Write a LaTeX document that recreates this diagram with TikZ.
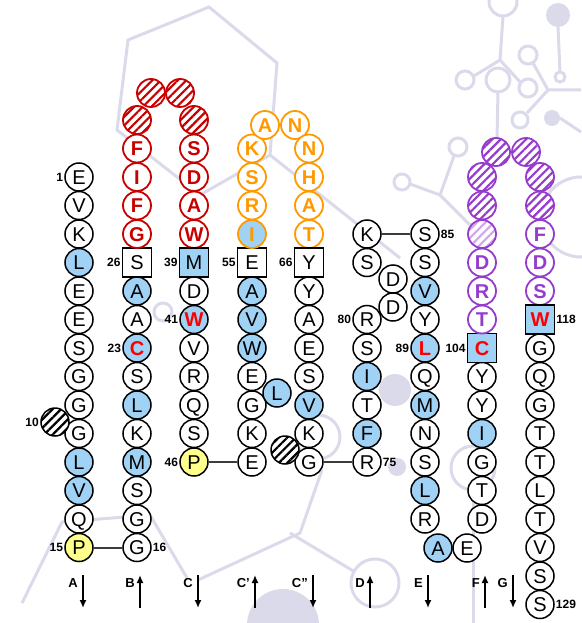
\documentclass[tikz,border=0pt]{standalone}
\usepackage{fontspec}
\setmainfont{Liberation Sans}
\usetikzlibrary{arrows.meta,patterns.meta}
\definecolor{hydBlue}{RGB}{160,210,246}
\definecolor{proYellow}{RGB}{255,255,140}
\definecolor{loopRed}{RGB}{200,0,0}
\definecolor{loopOrange}{RGB}{255,153,0}
\definecolor{loopPurple}{RGB}{150,60,205}
\definecolor{bgLav}{RGB}{218,218,235}
\definecolor{linkGray}{RGB}{60,60,60}
\newcommand{\resfont}{\fontsize{20}{20}\selectfont}
\newcommand{\resbold}{\fontsize{20}{20}\selectfont\bfseries}
\tikzset{
  res/.style={circle, draw, line width=1.5pt, fill=white, minimum size=28pt,
    inner sep=0pt, text height=14.3pt, text depth=0pt, font=\resfont},
  hyd/.style={res, fill=hydBlue},
  pro/.style={res, fill=proYellow},
  hydred/.style={hyd, text=red, font=\resbold},
  sq/.style={res, rectangle, minimum size=29pt},
  sqhyd/.style={sq, fill=hydBlue},
  sqred/.style={sqhyd, text=red, font=\resbold},
  redloop/.style={res, draw=loopRed, text=loopRed, line width=1.8pt, font=\resbold},
  orgloop/.style={res, draw=loopOrange, text=loopOrange, line width=1.8pt, font=\resbold},
  orghyd/.style={orgloop, fill=hydBlue},
  purloop/.style={res, draw=loopPurple, text=loopPurple, line width=1.8pt, font=\resbold},
  hatch/.style={res, preaction={fill=white},
    pattern={Lines[angle=45,distance=6pt,line width=2.2pt]}},
  blkhatch/.style={hatch, pattern color=black},
  redhatch/.style={hatch, draw=loopRed, line width=1.8pt, pattern color=loopRed},
  purhatch/.style={hatch, draw=loopPurple, line width=1.8pt, pattern color=loopPurple},
  purhatchlt/.style={purhatch, pattern color=loopPurple!45},
  numlbl/.style={font=\fontsize{12}{12}\selectfont\bfseries, inner sep=1pt},
  strandlbl/.style={font=\fontsize{13}{13}\selectfont\bfseries, inner sep=0pt},
  link/.style={linkGray, line width=2pt},
  strand/.style={line width=2.4pt, -{Latex[length=8pt,width=7pt]}},
  bg/.style={bgLav, line width=3pt},
}

\begin{document}
\begin{tikzpicture}[x=1pt, y=-1pt]
    \useasboundingbox (0,0) rectangle (581,623);
    % faint background network
    \draw[bg] (128,40) -- (209,7) -- (277,63) -- (270,155) -- (200,195) -- (117,130) -- cycle;
    \draw[bg] (270,155) -- (400,258);
    \draw[bg] (163,312) circle (9);
    \fill[bgLav] (395,390) circle (16);
    \draw[bg] (318,437) circle (22);
    \fill[bgLav] (397,467) circle (9);
    \draw[bg] (473,468) circle (22);
    \draw[bg] (473,490) -- (473,623);
    \draw[bg] (375,583) circle (24);
    \draw[bg] (290,533) -- (355,572);
    \fill[bgLav] (283,625) circle (36);
    \draw[bg] (22,603) -- (62,522) -- (150,515) -- (187,578);
    \draw[bg] (198,580) -- (300,533) -- (322,470);
    % top right
    \draw[bg] (503,2) circle (14);
    \fill[bgLav] (558,15) circle (12);
    \draw[bg] (503,16) -- (500,60) -- (474,76);
    \draw[bg] (500,60) -- (520,82);
    \draw[bg] (465,80) circle (9);
    \draw[bg] (498,80) circle (12);
    \draw[bg] (528,55) circle (9);
    \draw[bg] (528,88) circle (9);
    \draw[bg] (498,92) -- (497,140);
    \draw[bg] (558,27) -- (560,72);
    \draw[bg] (560,77) circle (5);
    \draw[bg] (533,63) -- (548,90) -- (581,90);
    \draw[bg] (548,90) -- (527,113);
    \draw[bg] (520,120) circle (8);
    \fill[bgLav] (552,118) circle (8);
    \draw[bg] (560,118) -- (581,132);
    \draw[bg] (458,147) circle (9);
    \draw[bg] (454,156) -- (440,195) -- (410,184);
    \draw[bg] (402,182) circle (8);
    \draw[bg] (440,195) -- (470,225);
    \draw[bg] (581,217) circle (40);

    % strand A
    \foreach \n/\aa/\r/\s in {1/E/0/res, 2/V/1/res, 3/K/2/res, 4/L/3/hyd, 5/E/4/res,
        6/E/5/res, 7/S/6/res, 8/G/7/res, 9/G/8/res, 11/G/9/res, 12/L/10/hyd,
        13/V/11/hyd, 14/Q/12/res, 15/P/13/pro}
      \node[\s] (r\n) at (79,{177+28.5*\r}) {\aa};
    \node[blkhatch] (r10) at (55,422) {};
    % strand B and the red loop
    \foreach \n/\aa/\r/\s in {16/G/13/res, 17/G/12/res, 18/S/11/res, 19/M/10/hyd,
        20/K/9/res, 21/L/8/hyd, 22/S/7/res, 23/C/6/hydred, 24/A/5/res, 25/A/4/hyd,
        26/S/3/sq, 27/G/2/redloop, 28/F/1/redloop, 29/I/0/redloop, 30/F/-1/redloop}
      \node[\s] (r\n) at (137,{177+28.5*\r}) {\aa};
    \node[redhatch] (r31) at (137,120) {};
    \node[redhatch] (r32) at (151,93) {};
    \node[redhatch] (r33) at (180,93) {};
    \node[redhatch] (r34) at (194,120) {};
    % strand C
    \foreach \n/\aa/\r/\s in {35/S/-1/redloop, 36/D/0/redloop, 37/A/1/redloop,
        38/W/2/redloop, 39/M/3/sqhyd, 40/D/4/res, 41/W/5/hydred, 42/V/6/res,
        43/R/7/res, 44/Q/8/res, 45/S/9/res, 46/P/10/pro}
      \node[\s] (r\n) at (194,{177+28.5*\r}) {\aa};
    % strand C' and the orange loop
    \foreach \n/\aa/\r/\s in {47/E/10/res, 48/K/9/res, 49/G/8/res, 51/E/7/res,
        52/W/6/hyd, 53/V/5/hyd, 54/A/4/hyd, 55/E/3/sq, 56/I/2/orghyd,
        57/R/1/orgloop, 58/S/0/orgloop, 59/K/-1/orgloop}
      \node[\s] (r\n) at (252,{177+28.5*\r}) {\aa};
    \node[hyd] (r50) at (277,393) {L};
    \node[orgloop] (r60) at (265,125) {A};
    \node[orgloop] (r61) at (295,125) {N};
    % strand C''
    \foreach \n/\aa/\r/\s in {62/N/-1/orgloop, 63/H/0/orgloop, 64/A/1/orgloop,
        65/T/2/orgloop, 66/Y/3/sq, 67/Y/4/res, 68/A/5/res, 69/E/6/res, 70/S/7/res,
        71/V/8/hyd, 72/K/9/res, 74/G/10/res}
      \node[\s] (r\n) at (309,{177+28.5*\r}) {\aa};
    \node[blkhatch] (r73) at (285,450) {};
    % strand D
    \foreach \n/\aa/\r/\s in {75/R/10/res, 76/F/9/hyd, 77/T/8/res, 78/I/7/hyd,
        79/S/6/res, 80/R/5/res, 83/S/3/res, 84/K/2/res}
      \node[\s] (r\n) at (367,{177+28.5*\r}) {\aa};
    \node[res] (r81) at (393,307) {D};
    \node[res] (r82) at (393,279) {D};
    % strand E
    \foreach \n/\aa/\r/\s in {85/S/2/res, 86/S/3/res, 87/V/4/hyd, 88/Y/5/res,
        89/L/6/hydred, 90/Q/7/res, 91/M/8/hyd, 92/N/9/res, 93/S/10/res,
        94/L/11/hyd, 95/R/12/res}
      \node[\s] (r\n) at (425,{177+28.5*\r}) {\aa};
    \node[hyd] (r96) at (438,548) {A};
    \node[res] (r97) at (467,548) {E};
    % strand F and the purple loop
    \foreach \n/\aa/\r/\s in {98/D/12/res, 99/T/11/res, 100/G/10/res, 101/I/9/hyd,
        102/Y/8/res, 103/Y/7/res, 104/C/6/sqred, 105/T/5/purloop, 106/R/4/purloop,
        107/D/3/purloop}
      \node[\s] (r\n) at (482,{177+28.5*\r}) {\aa};
    \node[purhatchlt] (r108) at (482,234) {};
    \node[purhatch] (r109) at (482,205.5) {};
    \node[purhatch] (r110) at (482,177) {};
    \node[purhatch] (r111) at (496,152) {};
    \node[purhatch] (r112) at (526,152) {};
    \node[purhatch] (r113) at (540,177) {};
    \node[purhatch] (r114) at (540,205.5) {};
    % strand G
    \foreach \n/\aa/\r/\s in {115/F/2/purloop, 116/D/3/purloop, 117/S/4/purloop,
        118/W/5/sqred, 119/G/6/res, 120/Q/7/res, 121/G/8/res, 122/T/9/res,
        123/T/10/res, 124/L/11/res, 125/T/12/res, 126/V/13/res, 127/S/14/res,
        128/S/15/res}
      \node[\s] (r\n) at (540,{177+28.5*\r}) {\aa};

    % links
    \draw[link] (r15) -- (r16);
    \draw[link] (r46) -- (r47);
    \draw[link] (r74) -- (r75);
    \draw[link] (r84) -- (r85);

    % residue numbers
    \foreach \n/\t in {1/1, 10/10, 15/15, 23/23, 26/26, 39/39, 41/41, 46/46,
        55/55, 66/66, 80/80, 89/89, 104/104}
      \node[numlbl, anchor=east] (lb\n) at (r\n.west) {\t};
    \foreach \n/\t in {16/16, 75/75, 85/85, 118/118, 128/129}
      \node[numlbl, anchor=west] (lb\n) at (r\n.east) {\t};

    % strands
    \foreach \lab/\xs/\ya/\yb in {A/83/575/608, B/140/608/575, C/198/575/608,
        C'/255/608/575, C''/313/575/608, D/370/608/575, E/428/575/608,
        F/485/608/575, G/513/575/608}
    {
      \coordinate (st\xs a) at (\xs,\ya);
      \coordinate (st\xs b) at (\xs,\yb);
      \draw[strand] (st\xs a) -- (st\xs b);
      \node[strandlbl, anchor=east] (sl\xs) at (\xs-5,583) {\lab};
    }
\end{tikzpicture}
\end{document}
